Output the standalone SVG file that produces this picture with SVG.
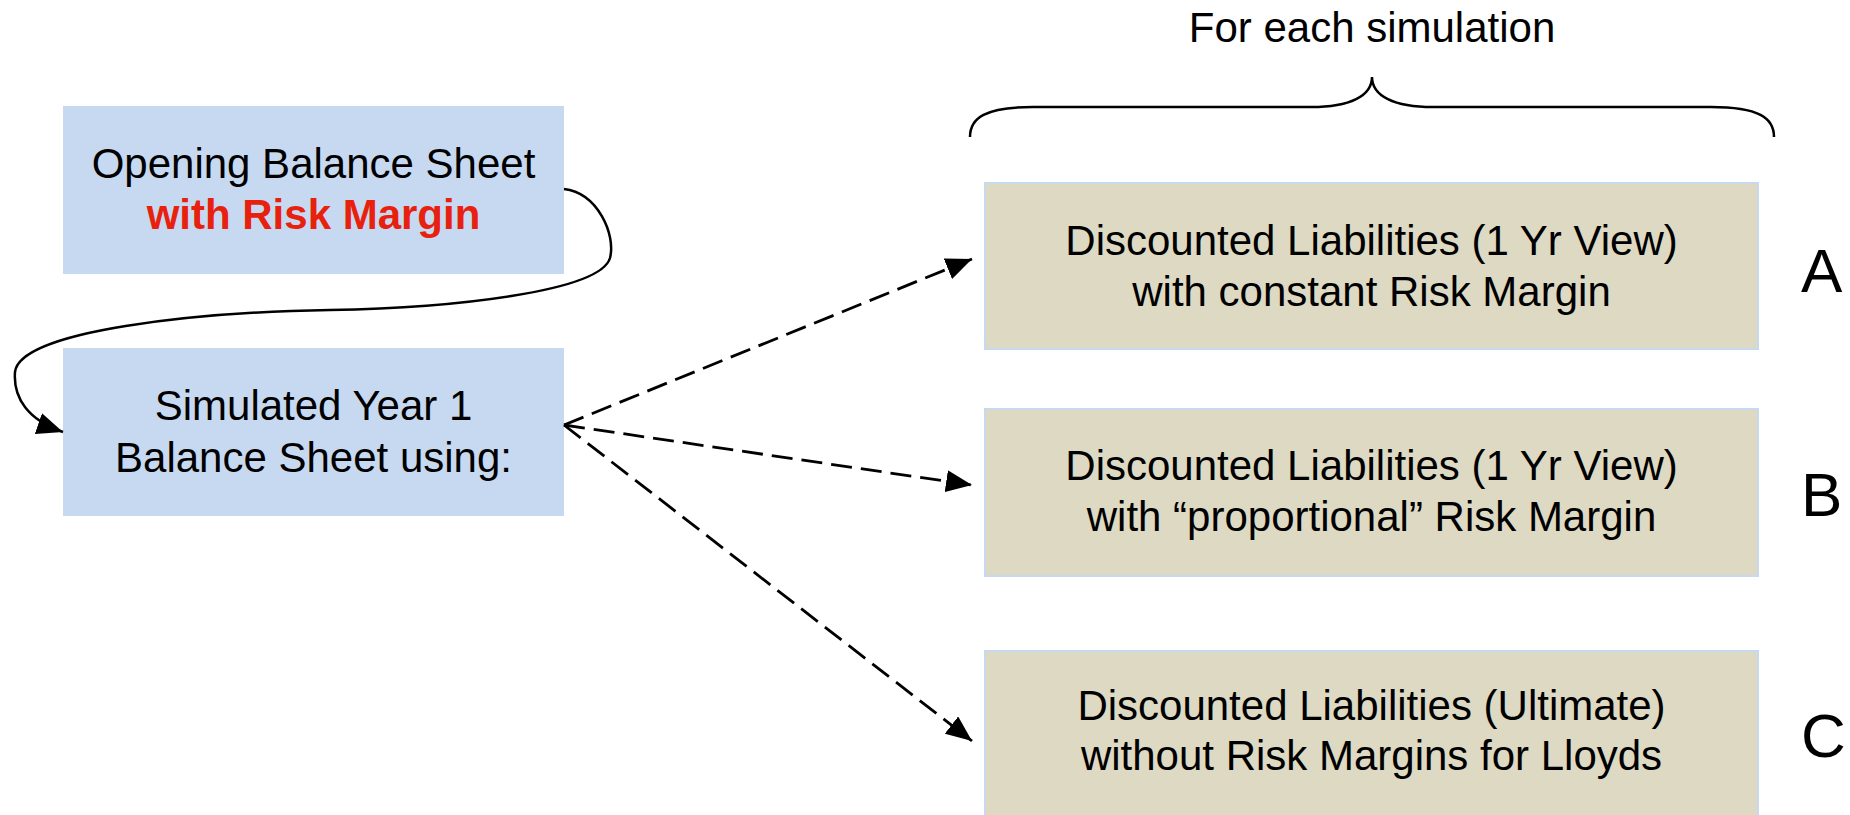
<svg xmlns="http://www.w3.org/2000/svg" width="1850" height="815" viewBox="0 0 1850 815">
<style>
text{font-family:"Liberation Sans",Arial,sans-serif;font-size:42px;fill:#000;text-anchor:middle}
.blue{fill:#C6D9F0}
.tan{fill:#DDD9C3;stroke:#C6D9F0;stroke-width:2}
.red{fill:#E8210E;font-weight:bold}
.lbl{font-size:62px;text-anchor:start}
.conn{fill:none;stroke:#000;stroke-width:2.5}
.dash{stroke-width:2.8;stroke-dasharray:21 9}
</style>
<defs>
<marker id="arr" viewBox="0 0 26 22" refX="26" refY="11" markerWidth="26" markerHeight="22" markerUnits="userSpaceOnUse" orient="auto">
<path d="M0,0 L26,11 L0,22 Z" fill="#000"/>
</marker>
</defs>
<g id="title">
<text x="1372" y="42">For each simulation</text>
<path d="M970,137 C970,118 985,107 1033,107 L1311,107 C1350,107 1372,96 1372,77 C1372,96 1394,107 1433,107 L1711,107 C1759,107 1774,118 1774,137" fill="none" stroke="#000" stroke-width="2.5"/>
</g>
<g id="opening">
<rect class="blue" x="63" y="106" width="501" height="168"/>
<text x="313.5" y="178">Opening Balance Sheet</text>
<text class="red" x="313.5" y="229">with Risk Margin</text>
</g>
<g id="simulated">
<rect class="blue" x="63" y="348" width="501" height="168"/>
<text x="313.5" y="420">Simulated Year 1</text>
<text x="313.5" y="472">Balance Sheet using:</text>
</g>
<g id="nodeA">
<rect class="tan" x="985" y="183" width="773" height="166"/>
<text x="1371.5" y="255">Discounted Liabilities (1 Yr View)</text>
<text x="1371.5" y="306">with constant Risk Margin</text>
<text class="lbl" x="1801" y="292">A</text>
</g>
<g id="nodeB">
<rect class="tan" x="985" y="409" width="773" height="167"/>
<text x="1371.5" y="480">Discounted Liabilities (1 Yr View)</text>
<text x="1371.5" y="531">with “proportional” Risk Margin</text>
<text class="lbl" x="1801" y="516">B</text>
</g>
<g id="nodeC">
<rect class="tan" x="985" y="651" width="773" height="170"/>
<text x="1371.5" y="720">Discounted Liabilities (Ultimate)</text>
<text x="1371.5" y="770">without Risk Margins for Lloyds</text>
<text class="lbl" x="1801" y="757">C</text>
</g>
<g id="connectors">
<path class="conn" d="M564,189 C598,193 616,235 610,258 C600,292 450,308 330,310 C200,312 20,330 15,372 C13,398 28,420 63,432" marker-end="url(#arr)"/>
<path class="conn dash" d="M564,425 L972,259" marker-end="url(#arr)"/>
<path class="conn dash" d="M564,425 L972,485" marker-end="url(#arr)"/>
<path class="conn dash" d="M564,425 L972,741" marker-end="url(#arr)"/>
</g>
</svg>
